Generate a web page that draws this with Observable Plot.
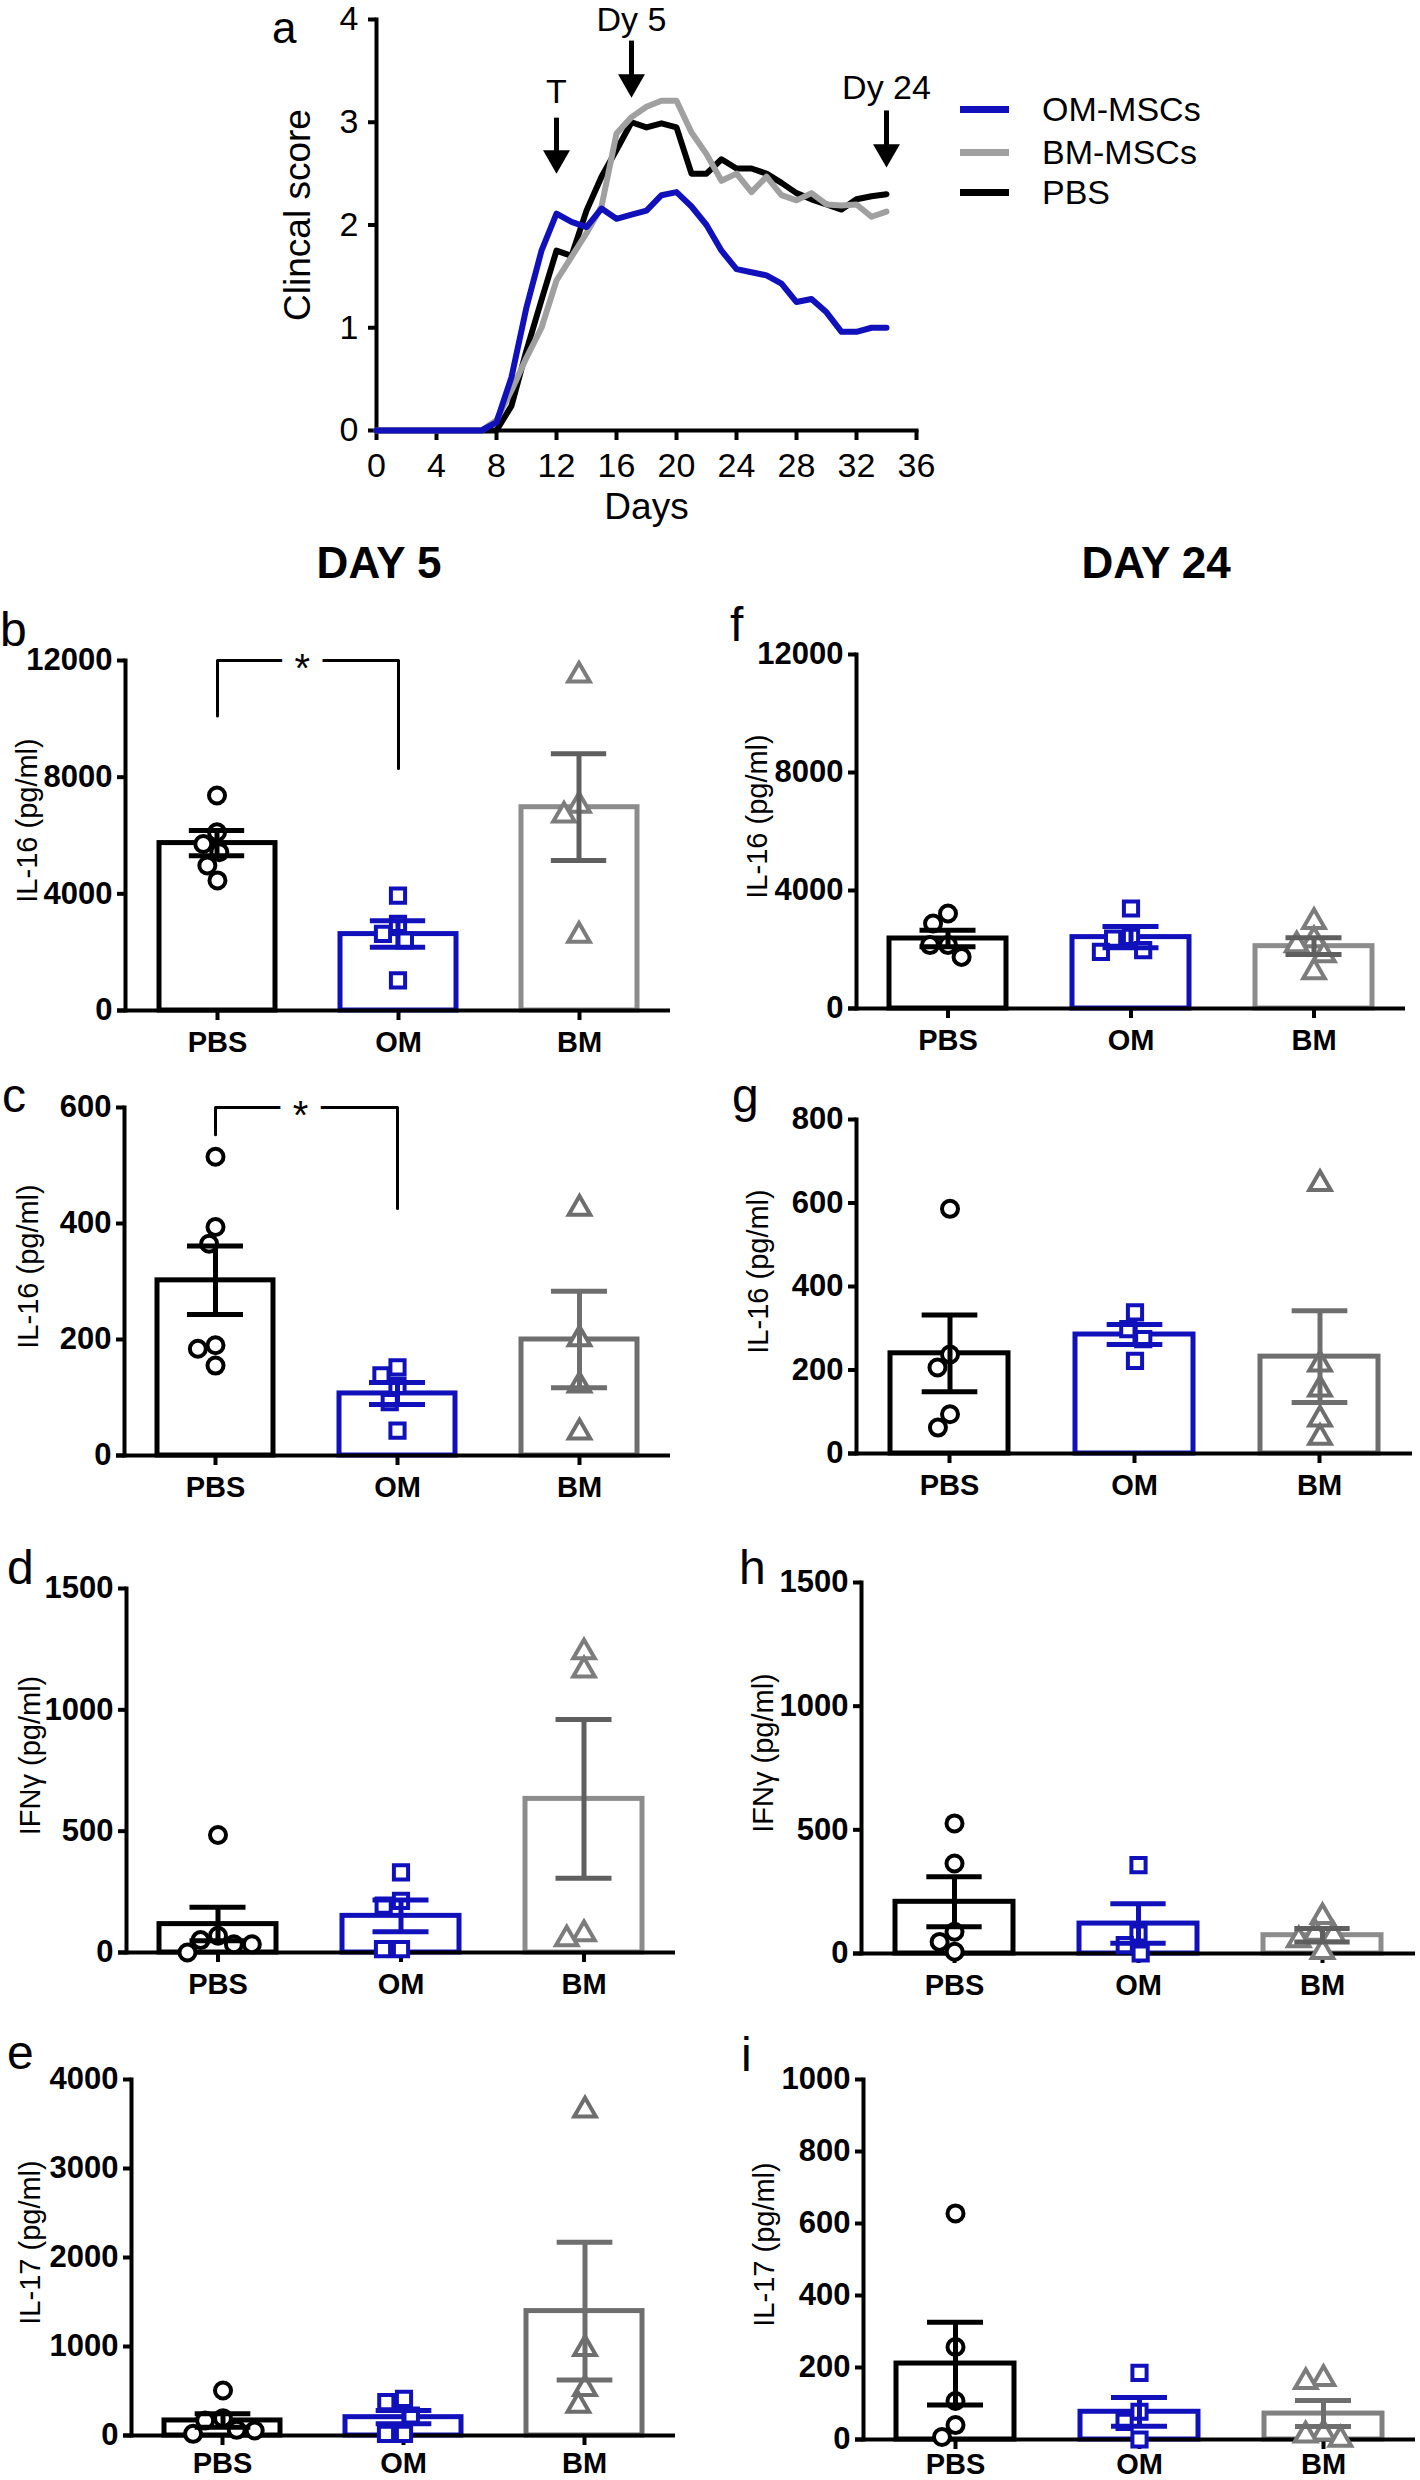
<!DOCTYPE html>
<html><head><meta charset="utf-8">
<script src="https://cdn.jsdelivr.net/npm/d3@7"></script>
<script src="https://cdn.jsdelivr.net/npm/@observablehq/plot@0.6"></script>
<style>
body{margin:0;background:#fff;}
#fig{position:relative;width:1420px;height:2480px;background:#fff;font-family:"Liberation Sans",Arial,sans-serif;color:#000;overflow:hidden;}
.abs{position:absolute;}
.txt{position:absolute;white-space:nowrap;}
svg{overflow:visible;}
</style></head><body><div id="fig"></div>
<script>
// ---------------- DATA ----------------
const groups = ["PBS", "OM", "BM"];

// Panel a: clinical score by day
const days = [0,1,2,3,4,5,6,7,8,9,10,11,12,13,14,15,16,17,18,19,20,21,22,23,24,25,26,27,28,29,30,31,32,33,34];
const scoreOM  = [0,0,0,0,0,0,0,0,0.08,0.52,1.20,1.75,2.11,2.03,1.98,2.16,2.06,2.10,2.14,2.29,2.32,2.18,2.00,1.75,1.57,1.54,1.51,1.43,1.25,1.28,1.15,0.96,0.96,1.00,1.00];
const scoreBM  = [0,0,0,0,0,0,0,0,0.10,0.39,0.71,1.00,1.46,1.69,1.92,2.18,2.89,3.05,3.15,3.21,3.21,2.90,2.69,2.43,2.50,2.32,2.47,2.29,2.24,2.31,2.20,2.19,2.20,2.08,2.13];
const scorePBS = [0,0,0,0,0,0,0,0,0,0.24,0.78,1.27,1.75,1.70,2.14,2.47,2.73,3.00,2.95,2.99,2.95,2.50,2.50,2.64,2.55,2.55,2.50,2.41,2.31,2.25,2.20,2.15,2.25,2.28,2.30];
const xTicksA = [0,4,8,12,16,20,24,28,32,36];
const yTicksA = [0,1,2,3,4];
const arrowDays  = [12, 17, 34];
const arrowTop   = [3.04, 3.79, 3.11];
const arrowTip   = [2.50, 3.24, 2.56];
const arrowText  = ["T", "Dy 5", "Dy 24"];
const arrowTextY = [3.29, 3.99, 3.33];
const legendNames = ["OM-MSCs", "BM-MSCs", "PBS"];

// Panel b: IL-16 day 5
const b_PBS = [7370, 6110, 5710, 5430, 4970, 4460];
const b_OM  = [3940, 2970, 2630, 2400, 1030];
const b_BM  = [11490, 7030, 6690, 2570];
const b_mean = [5740, 2620, 6970];
const b_sem  = [430, 455, 1830];
const b_ticks = [0, 4000, 8000, 12000];
const b_bracket = [10100, 12000, 8300];

// Panel c: IL-16 day 5
const c_PBS = [515, 394, 365, 190, 184, 155];
const c_OM  = [152, 138, 120, 92, 43];
const c_BM  = [426, 201, 121, 40];
const c_mean = [302, 107, 200];
const c_sem  = [59, 19, 83];
const c_ticks = [0, 200, 400, 600];
const c_bracket = [553, 600, 426];

// Panel d: IFNγ day 5
const d_PBS = [484, 69, 51, 34, 34, 0];
const d_OM  = [330, 213, 193, 14, 14];
const d_BM  = [1238, 1163, 76, 55];
const d_mean = [117, 151, 633];
const d_sem  = [69, 65, 327];
const d_ticks = [0, 500, 1000, 1500];

// Panel e: IL-17 day 5
const e_PBS = [506, 195, 169, 64, 56, 19];
const e_OM  = [412, 375, 225, 19, 19];
const e_BM  = [3655, 975, 525, 337];
const e_mean = [169, 206, 1398];
const e_sem  = [75, 75, 774];
const e_ticks = [0, 1000, 2000, 3000, 4000];

// Panel f: IL-16 day 24
const f_PBS = [3220, 2880, 2150, 2150, 1750];
const f_OM  = [3390, 2430, 2370, 1980, 1920];
const f_BM  = [2940, 2320, 2150, 1810, 1240];
const f_mean = [2373, 2420, 2113];
const f_sem  = [283, 360, 283];
const f_ticks = [0, 4000, 8000, 12000];

// Panel g: IL-16 day 24
const g_PBS = [586, 237, 206, 94, 62];
const g_OM  = [338, 298, 274, 222];
const g_BM  = [646, 214, 154, 82, 38];
const g_mean = [240, 285, 232];
const g_sem  = [92, 24, 110];
const g_ticks = [0, 200, 400, 600, 800];

// Panel h: IFNγ day 24
const h_PBS = [526, 364, 88, 47, 7];
const h_OM  = [357, 81, 34, 0];
const h_BM  = [148, 81, 74, 54, 7];
const h_mean = [209, 121, 74];
const h_sem  = [101, 80, 27];
const h_ticks = [0, 500, 1000, 1500];

// Panel i: IL-17 day 24
const i_PBS = [628, 257, 107, 40, 7];
const i_OM  = [185, 77, 49, 0];
const i_BM  = [169, 160, 17, 12, 0];
const i_mean = [211, 77, 72];
const i_sem  = [115, 40, 36];
const i_ticks = [0, 200, 400, 600, 800, 1000];

// ---------------- DRAWING ----------------
const FONT = '"Liberation Sans", Arial, Helvetica, sans-serif';
const NARROW = '"Liberation Sans Narrow", "Arial Narrow", "Liberation Sans", Arial, sans-serif';
const BLUE = "#1111bb";
const fig = document.getElementById("fig");

function place(el, left, top) {
  const d = document.createElement("div");
  d.className = "abs";
  d.style.left = left + "px";
  d.style.top = top + "px";
  d.appendChild(el);
  fig.appendChild(d);
  return d;
}
function addText(str, x, baseline, size, weight, center, family) {
  const d = document.createElement("div");
  d.className = "txt";
  d.textContent = str;
  d.style.fontSize = size + "px";
  d.style.lineHeight = size + "px";
  d.style.fontWeight = weight || "normal";
  if (family) d.style.fontFamily = family;
  d.style.left = x + "px";
  d.style.top = (baseline - 0.8465 * size) + "px";
  if (center) d.style.transform = "translateX(-50%)";
  fig.appendChild(d);
}

// ---- Panel a ----
(function () {
  const arrows = arrowDays.map((d, i) => ({day: d, top: arrowTop[i], tip: arrowTip[i], label: arrowText[i], ly: arrowTextY[i]}));
  const style = {fontFamily: FONT, background: "transparent", overflow: "visible", color: "#000"};
  const chart = Plot.plot({
    width: 1000, height: 530,
    marginLeft: 376, marginRight: 84, marginTop: 19, marginBottom: 100,
    x: {domain: [0, 36]}, y: {domain: [0, 4]},
    style,
    marks: [
      Plot.frame({anchor: "left", strokeWidth: 4}),
      Plot.frame({anchor: "bottom", strokeWidth: 4}),
      Plot.axisX({ticks: xTicksA, tickFormat: d => String(d), tickSize: 10, tickPadding: 12, fontSize: 34, fontFamily: NARROW, strokeWidth: 4, label: null}),
      Plot.axisY({ticks: yTicksA, tickFormat: d => String(d), tickSize: 8, tickPadding: 10, fontSize: 34, fontFamily: NARROW, strokeWidth: 4, label: null}),
      Plot.text(["Days"], {frameAnchor: "bottom", dy: 77, fontSize: 37, fontFamily: NARROW, lineAnchor: "middle", textAnchor: "middle"}),
      Plot.text(["Clincal score"], {frameAnchor: "left", rotate: -90, dx: -78, dy: -10, fontSize: 37, lineAnchor: "middle", textAnchor: "middle"}),
      Plot.line(days, {x: d => d, y: (d, i) => scorePBS[i], stroke: "#000", strokeWidth: 6}),
      Plot.line(days, {x: d => d, y: (d, i) => scoreBM[i], stroke: "#a0a0a0", strokeWidth: 6}),
      Plot.line(days, {x: d => d, y: (d, i) => scoreOM[i], stroke: BLUE, strokeWidth: 6}),
      Plot.ruleX(arrows, {x: "day", y1: "top", y2: "tip", strokeWidth: 5, insetBottom: 12}),
      Plot.dot(arrows, {x: "day", y: "tip", symbol: "triangle", r: 10, rotate: 180, fill: "#000", stroke: "none", dy: -15.5}),
      Plot.text(arrows, {x: "day", y: "ly", text: "label", fontSize: 34, fontFamily: NARROW, lineAnchor: "middle", textAnchor: "middle"})
    ]
  });
  place(chart, 0, 0);
  // legend
  const legColors = [BLUE, "#a0a0a0", "#000"];
  const rows = [109, 152, 192];
  legendNames.forEach((n, i) => {
    const sw = document.createElement("div");
    sw.className = "abs";
    sw.style.left = "960px"; sw.style.top = (rows[i] - 3.5) + "px";
    sw.style.width = "49px"; sw.style.height = "7px";
    sw.style.background = legColors[i];
    fig.appendChild(sw);
    addText(n, 1042, rows[i] + 12, 34, "normal", false, NARROW);
  });
  addText("a", 272, 43, 44, "normal", false);
})();

// ---- bar panels ----
function barPanel(p) {
  const svgLeft = p.L - 125, svgTop = p.T - 30;
  const width = p.R - svgLeft + 10, height = p.B - svgTop + 62;
  const m = {marginLeft: p.L - svgLeft, marginRight: 10, marginTop: p.T - svgTop, marginBottom: height - (p.B - svgTop)};
  const ymax = p.ticks[p.ticks.length - 1];
  const barCol = {PBS: "#000", OM: BLUE, BM: p.bmBar};
  const dotCol = {PBS: "#000", OM: BLUE, BM: p.bmDot};
  const errCol = {PBS: "#000", OM: BLUE, BM: p.bmErr};
  const stats = groups.map((g, i) => ({group: g, mean: p.mean[i], lo: p.mean[i] - p.sem[i], hi: p.mean[i] + p.sem[i]}));
  const pts = groups.flatMap((g, i) => p.pts[i].map(v => ({group: g, value: v})));
  const step = (p.R - p.L) / 3;
  const capInset = (step - 56) / 2;
  const style = {fontFamily: FONT, background: "transparent", overflow: "visible", color: "#000"};

  const marks = [
    Plot.barY(stats, {x: "group", y: "mean", fill: "white", stroke: d => barCol[d.group], strokeWidth: 5}),
    Plot.ruleY([0], {strokeWidth: 4, insetLeft: -8}),
    Plot.frame({anchor: "left", strokeWidth: 4}),
    Plot.axisY({ticks: p.ticks, tickFormat: d => String(d), tickSize: 8, tickPadding: 5, fontSize: 31, fontWeight: "bold", fontFamily: NARROW, strokeWidth: 4, label: null}),
    Plot.axisX({tickSize: 10, tickPadding: p.catPad, fontSize: 29, fontWeight: "bold", fontFamily: NARROW, strokeWidth: 4, label: null}),
    Plot.text([p.ylabel], {frameAnchor: "left", rotate: -90, dx: p.labelX - p.L, dy: -15, fontSize: 29, lineAnchor: "middle", textAnchor: "middle"})
  ];
  if (p.bracket) {
    const br = [{g: "PBS", v: p.bracket[0]}, {g: "PBS", v: p.bracket[1]}, {g: "OM", v: p.bracket[1]}, {g: "OM", v: p.bracket[2]}];
    marks.push(Plot.line(br, {x: "g", y: "v", stroke: "#000", strokeWidth: 3, curve: "linear"}));
    marks.push(Plot.text([br[1]], {x: "g", y: "v", text: () => "*", dx: step / 2 - 6, dy: 9, fontSize: 40, fill: "#000", stroke: "white", strokeWidth: 26, paintOrder: "stroke"}));
  }
  const base = Plot.plot({
    width, height, ...m, style,
    x: {domain: groups, paddingInner: 0.36, paddingOuter: 0.18},
    y: {domain: [0, ymax]},
    color: {type: "identity"},
    marks
  });
  const over = Plot.plot({
    width, height, ...m, style,
    fx: {domain: groups, padding: 0, axis: null},
    x: {domain: [0, 1], axis: null},
    y: {domain: [0, ymax], axis: null},
    color: {type: "identity"},
    symbol: {domain: groups, range: ["circle", "square", "triangle"]},
    marks: [
      Plot.dot(pts, Plot.dodgeX({anchor: "middle", padding: 2}, {fx: "group", y: "value", r: 8, symbol: "group", stroke: d => dotCol[d.group], fill: "white", strokeWidth: 4})),
      Plot.ruleX(stats, {fx: "group", x: () => 0.5, y1: "lo", y2: "hi", stroke: d => errCol[d.group], strokeWidth: 5}),
      Plot.tickY(stats, {fx: "group", y: "hi", stroke: d => errCol[d.group], strokeWidth: 5, insetLeft: capInset, insetRight: capInset}),
      Plot.tickY(stats, {fx: "group", y: "lo", stroke: d => errCol[d.group], strokeWidth: 5, insetLeft: capInset, insetRight: capInset})
    ]
  });
  const holder = document.createElement("div");
  holder.style.position = "relative";
  holder.style.width = width + "px";
  holder.style.height = height + "px";
  base.style.position = "absolute"; base.style.left = "0"; base.style.top = "0";
  over.style.position = "absolute"; over.style.left = "0"; over.style.top = "0";
  holder.appendChild(base);
  holder.appendChild(over);
  place(holder, svgLeft, svgTop);
  addText(p.letter, p.letterX, p.letterBase, 48, "normal", false);
}

const LIGHT = "#8c8c8c", DARK = "#6e6e6e", ERR = "#5f5f5f";
barPanel({letter: "b", letterX: 0, letterBase: 647, L: 125, R: 670, T: 660, B: 1010, catPad: 11, ticks: b_ticks, ylabel: "IL-16 (pg/ml)", labelX: 27,
  pts: [b_PBS, b_OM, b_BM], mean: b_mean, sem: b_sem, bracket: b_bracket, bmBar: LIGHT, bmDot: "#7c7c7c", bmErr: ERR});
barPanel({letter: "c", letterX: 2, letterBase: 1113, L: 124, R: 670, T: 1107, B: 1455, catPad: 11, ticks: c_ticks, ylabel: "IL-16 (pg/ml)", labelX: 28,
  pts: [c_PBS, c_OM, c_BM], mean: c_mean, sem: c_sem, bracket: c_bracket, bmBar: DARK, bmDot: DARK, bmErr: DARK});
barPanel({letter: "d", letterX: 7, letterBase: 1585, L: 126, R: 675, T: 1588, B: 1952, catPad: 11, ticks: d_ticks, ylabel: "IFNγ (pg/ml)", labelX: 30,
  pts: [d_PBS, d_OM, d_BM], mean: d_mean, sem: d_sem, bmBar: LIGHT, bmDot: "#7c7c7c", bmErr: ERR});
barPanel({letter: "e", letterX: 7, letterBase: 2070, L: 131, R: 675, T: 2079, B: 2435, catPad: 7, ticks: e_ticks, ylabel: "IL-17 (pg/ml)", labelX: 30,
  pts: [e_PBS, e_OM, e_BM], mean: e_mean, sem: e_sem, bmBar: DARK, bmDot: DARK, bmErr: DARK});
barPanel({letter: "f", letterX: 730, letterBase: 642, L: 856, R: 1405, T: 654, B: 1008, catPad: 11, ticks: f_ticks, ylabel: "IL-16 (pg/ml)", labelX: 757,
  pts: [f_PBS, f_OM, f_BM], mean: f_mean, sem: f_sem, bmBar: LIGHT, bmDot: "#7c7c7c", bmErr: ERR});
barPanel({letter: "g", letterX: 732, letterBase: 1113, L: 856, R: 1412, T: 1119, B: 1453, catPad: 11, ticks: g_ticks, ylabel: "IL-16 (pg/ml)", labelX: 758,
  pts: [g_PBS, g_OM, g_BM], mean: g_mean, sem: g_sem, bmBar: DARK, bmDot: DARK, bmErr: DARK});
barPanel({letter: "h", letterX: 739, letterBase: 1585, L: 861, R: 1415, T: 1582, B: 1953, catPad: 11, ticks: h_ticks, ylabel: "IFNγ (pg/ml)", labelX: 763,
  pts: [h_PBS, h_OM, h_BM], mean: h_mean, sem: h_sem, bmBar: LIGHT, bmDot: "#7c7c7c", bmErr: ERR});
barPanel({letter: "i", letterX: 741, letterBase: 2072, L: 863, R: 1415, T: 2079, B: 2439, catPad: 4, ticks: i_ticks, ylabel: "IL-17 (pg/ml)", labelX: 764,
  pts: [i_PBS, i_OM, i_BM], mean: i_mean, sem: i_sem, bmBar: "#808080", bmDot: "#7c7c7c", bmErr: DARK});

addText("DAY 5", 379, 578, 44, "bold", true);
addText("DAY 24", 1156, 578, 44, "bold", true);
</script></body></html>
